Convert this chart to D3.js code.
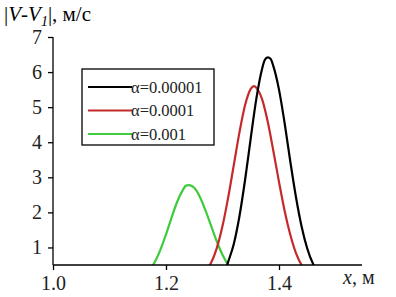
<!DOCTYPE html>
<html>
<head>
<meta charset="utf-8">
<script src="https://cdn.jsdelivr.net/npm/d3@7"></script>
<style>
  body { margin: 0; background: #fff; }
  svg { display: block; font-family: "Liberation Serif", "DejaVu Serif", serif; }
</style>
</head>
<body>
<svg id="bg" width="396" height="297"></svg>
<script>
// valores
var xTicks = [1.0, 1.2, 1.4];
var yTicks = [1, 2, 3, 4, 5, 6, 7];

var seriesNames = ['α=0.00001', 'α=0.0001', 'α=0.001'];
var seriesColors = ['#000000', '#c42a2a', '#3ccc3c'];

var xBlack = [1.305, 1.31, 1.32, 1.33, 1.34, 1.35, 1.36, 1.37, 1.375, 1.38, 1.385, 1.39, 1.40, 1.41, 1.42, 1.43, 1.44, 1.45, 1.46, 1.47];
var yBlack = [0.35, 0.59, 1.10, 1.89, 2.93, 4.12, 5.25, 6.09, 6.35, 6.42, 6.38, 6.17, 5.50, 4.54, 3.45, 2.44, 1.60, 0.97, 0.54, 0.3];

var xRed = [1.27, 1.28, 1.29, 1.30, 1.31, 1.32, 1.33, 1.34, 1.35, 1.356, 1.36, 1.37, 1.38, 1.39, 1.40, 1.41, 1.42, 1.43, 1.44, 1.45];
var yRed = [0.35, 0.57, 0.99, 1.61, 2.42, 3.35, 4.28, 5.06, 5.52, 5.60, 5.55, 5.23, 4.59, 3.75, 2.87, 2.04, 1.36, 0.84, 0.50, 0.3];

var xGreen = [1.17, 1.18, 1.19, 1.20, 1.21, 1.22, 1.23, 1.235, 1.24, 1.245, 1.25, 1.26, 1.27, 1.28, 1.29, 1.30, 1.31, 1.32];
var yGreen = [0.35, 0.58, 0.93, 1.37, 1.86, 2.31, 2.64, 2.76, 2.78, 2.76, 2.70, 2.44, 2.05, 1.61, 1.17, 0.79, 0.50, 0.3];

var xScale = d3.scaleLinear().domain([1.0, 1.2]).range([53, 166]);
var yScale = d3.scaleLinear().domain([0.5, 7]).range([265, 37]);

var svg = d3.select('#bg');

svg.append('defs').append('clipPath').attr('id', 'clip')
  .append('rect')
  .attr('x', 53).attr('y', 20)
  .attr('width', 320).attr('height', 245);

var gCurvas = svg.append('g').attr('clip-path', 'url(#clip)');

function dibujarCurva(xs, ys, color) {
  var data = xs.map(function(x, i) { return { x: x, y: ys[i] }; });
  gCurvas.append('path')
    .datum(data)
    .attr('fill', 'none')
    .attr('stroke', color)
    .attr('stroke-width', 2.2)
    .attr('stroke-linejoin', 'round')
    .attr('d', d3.line()
      .curve(d3.curveMonotoneX)
      .x(function(d) { return xScale(d.x); })
      .y(function(d) { return yScale(d.y); })
    );
}

dibujarCurva(xGreen, yGreen, seriesColors[2]);
dibujarCurva(xRed, yRed, seriesColors[1]);
dibujarCurva(xBlack, yBlack, seriesColors[0]);

// ejes
var axX = svg.append('g')
  .attr('transform', 'translate(0,265)')
  .call(d3.axisBottom(xScale).tickValues(xTicks).tickFormat(d3.format('.1f')).tickSize(5).tickPadding(6));
axX.select('.domain').attr('d', 'M53,0H362');

var axY = svg.append('g')
  .attr('transform', 'translate(53,0)')
  .call(d3.axisLeft(yScale).tickValues(yTicks).tickFormat(d3.format('d')).tickSize(5).tickPadding(6));
axY.select('.domain').attr('d', 'M0,37V265');

svg.selectAll('.tick text')
  .attr('font-family', '"Liberation Serif", serif')
  .attr('font-size', 20)
  .attr('fill', '#222');
svg.selectAll('.domain, .tick line').attr('stroke', '#000').attr('stroke-width', 1.3);

// titulo eje y
var tY = svg.append('text')
  .attr('x', 4).attr('y', 21)
  .attr('font-size', 21)
  .attr('fill', '#000');
tY.append('tspan').text('|');
tY.append('tspan').attr('font-style', 'italic').text('V');
tY.append('tspan').text('-');
tY.append('tspan').attr('font-style', 'italic').text('V');
tY.append('tspan').attr('font-style', 'italic').attr('font-size', 14).attr('dy', 5).text('1');
tY.append('tspan').attr('dy', -5).text('|, м/с');

// titulo eje x
var tX = svg.append('text')
  .attr('x', 343).attr('y', 284)
  .attr('font-size', 20)
  .attr('fill', '#222');
tX.append('tspan').attr('font-style', 'italic').text('x');
tX.append('tspan').text(', м');

// leyenda
var leyenda = svg.append('g');
leyenda.append('rect')
  .attr('x', 82).attr('y', 69)
  .attr('width', 132).attr('height', 76)
  .attr('fill', '#fff')
  .attr('stroke', '#000')
  .attr('stroke-width', 1.3);

seriesNames.forEach(function(n, i) {
  var y = 87 + i * 23.5;
  leyenda.append('line')
    .attr('x1', 88).attr('x2', 132)
    .attr('y1', y).attr('y2', y)
    .attr('stroke', seriesColors[i])
    .attr('stroke-width', 2.2);
  leyenda.append('text')
    .attr('x', 131).attr('y', y + 5.5)
    .attr('font-size', 16.5)
    .attr('fill', '#222')
    .text(n);
});
</script>
</body>
</html>
